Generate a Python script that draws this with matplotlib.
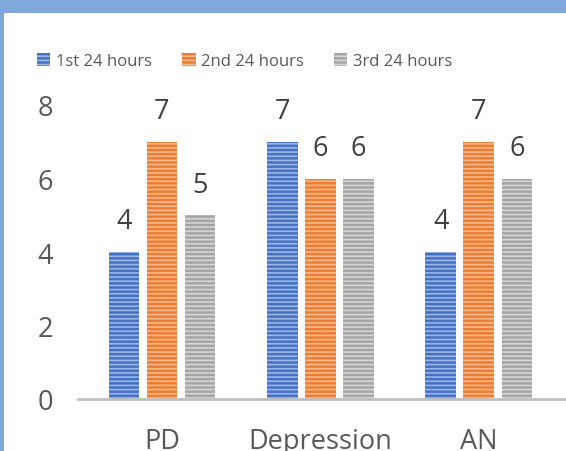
import matplotlib
matplotlib.use("Agg")
import matplotlib.pyplot as plt
import numpy as np
from matplotlib.patches import Rectangle

categories = ["PD", "Depression", "AN"]
series_names = ["1st 24 hours", "2nd 24 hours", "3rd 24 hours"]
first_24 = [4, 7, 4]
second_24 = [7, 6, 7]
third_24 = [5, 6, 6]
y_ticks = [0, 2, 4, 6, 8]

plt.rcParams['font.family'] = ['Open Sans', 'DejaVu Sans']
plt.rcParams['hatch.linewidth'] = 1.2

W, H = 566, 452
fig = plt.figure(figsize=(W / 100, H / 100), dpi=100)
fig.patch.set_facecolor('#7FA7DC')
fig.patches.append(Rectangle((4 / W, 0), 1, 1 - 14 / H, transform=fig.transFigure,
                             facecolor='white', edgecolor='none', zorder=-10))

ax = fig.add_axes([78 / W, (H - 400) / H, 1 - 78 / W, (400 - 106) / H])
ax.set_facecolor('none')

colors = ['#4472C4', '#ED7D31', '#A5A5A5']
stripe = ['#9DB5E3', '#F6B98E', '#D6D6D6']
series = [first_24, second_24, third_24]
x = np.arange(len(categories))
width = 0.194
step = 0.24
for i, (vals, c, s, name) in enumerate(zip(series, colors, stripe, series_names)):
    pos = x + (i - 1) * step
    bars = ax.bar(pos, vals, width, color=c, edgecolor=s, linewidth=0,
                  hatch='----', label=name, zorder=2)
    for xp, v in zip(pos, vals):
        ax.annotate(str(v), (xp, v), xytext=(0, 17), textcoords='offset points',
                    ha='center', va='baseline', fontsize=19.5, color='#404040',
                    annotation_clip=False)

ax.set_xlim(-0.53, 2.55)
ax.set_ylim(0, 8)
ax.set_yticks(y_ticks)
ax.set_yticklabels([str(t) for t in y_ticks], fontsize=19.5, color='#595959')
ax.set_xticks(x)
ax.set_xticklabels(categories, fontsize=19.5, color='#595959')
ax.tick_params(axis='y', length=0, pad=18)
ax.tick_params(axis='x', length=0, pad=20)
for sp in ['top', 'right', 'left']:
    ax.spines[sp].set_visible(False)
ax.spines['bottom'].set_color('#BFBFBF')
ax.spines['bottom'].set_linewidth(2)
ax.spines['bottom'].set_zorder(3)

leg = fig.legend(loc='center left', bbox_to_anchor=(37 / W, 1 - 62 / H), ncol=3,
                 frameon=False, fontsize=12, handlelength=0.8, handleheight=0.8,
                 handletextpad=0.35, columnspacing=1.8, labelcolor='#595959',
                 borderpad=0, borderaxespad=0)

fig.savefig('out.png', dpi=100)
